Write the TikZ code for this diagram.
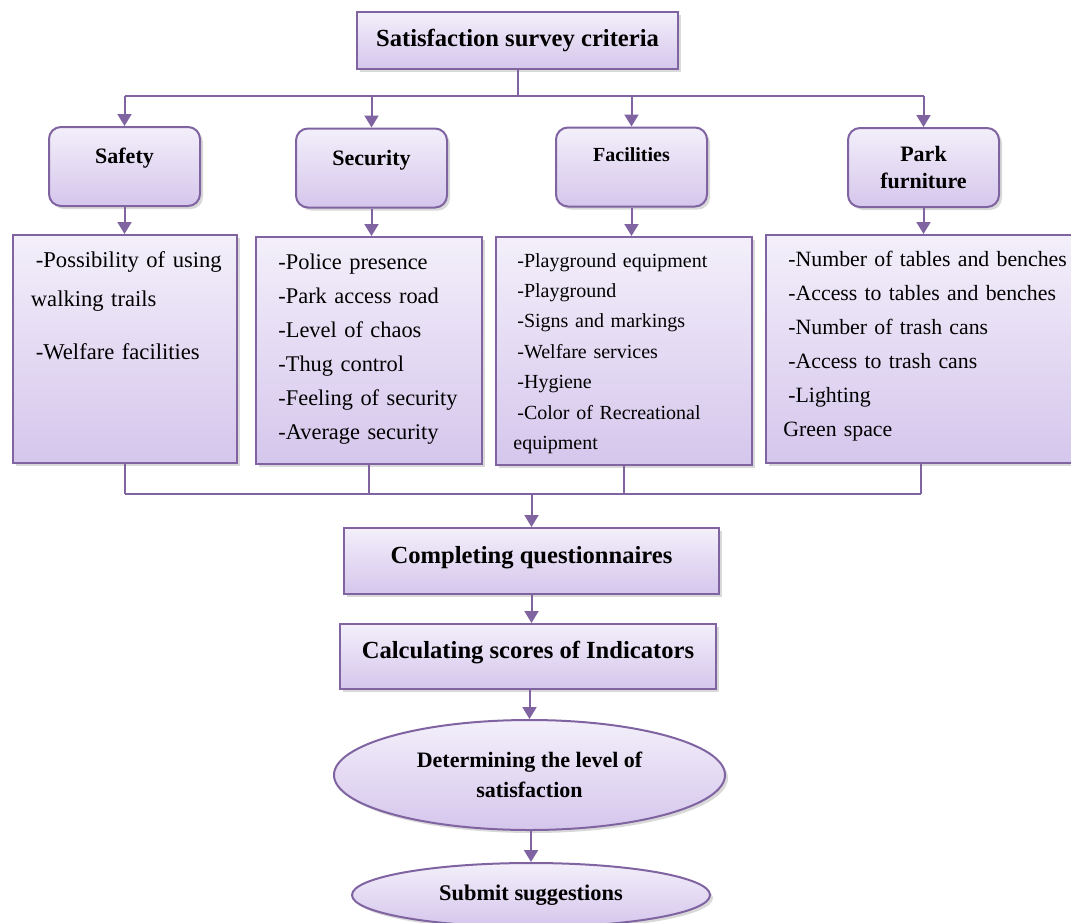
\documentclass[tikz,border=0pt]{standalone}
\usepackage{fontspec}
\setmainfont{Liberation Serif}
\usetikzlibrary{shapes.geometric,arrows.meta,shadows}
\definecolor{boxline}{HTML}{8064A2}
\definecolor{boxtop}{RGB}{243,239,250}
\definecolor{boxbot}{RGB}{213,198,236}
\begin{document}
\begin{tikzpicture}[x=0.5pt,y=-0.5pt]
\tikzstyle{box}=[draw=boxline,line width=1pt,top color=boxtop,bottom color=boxbot,drop shadow={opacity=0.3,shadow xshift=1.5pt,shadow yshift=-1.5pt},font=\bfseries\fontsize{12.3}{15}\selectfont]
\tikzstyle{catbox}=[box,rounded corners=6pt,minimum width=75.5pt,minimum height=39.5pt,align=center,font=\bfseries\fontsize{11}{13.5}\selectfont]
\tikzstyle{cattop}=[text height=8pt,text depth=11pt]
\tikzstyle{listbox}=[box,minimum height=114pt]
\tikzstyle{listtxt}=[anchor=base west,inner sep=0pt,align=left]
\tikzstyle{oval}=[box,ellipse,align=center]
\tikzstyle{wire}=[boxline,line width=1pt]
\tikzstyle{arr}=[wire,-{Triangle[length=6pt,width=7pt]}]
\useasboundingbox (0,0) rectangle (1071,922);
\clip (0,0) rectangle (1071,922);
\node[box,minimum width=160.5pt,minimum height=28.5pt](crit) at (517.5,40.5) {Satisfaction survey criteria};
\node[catbox,cattop](safety) at (124.5,166.5) {Safety};
\node[catbox,cattop](security) at (371.5,168) {Security};
\node[catbox,cattop,text depth=14pt,font=\bfseries\fontsize{10}{12}\selectfont](facil) at (631.5,167) {Facilities};
\node[catbox](park) at (923.5,167.5) {Park\\furniture};
\node[listbox,minimum width=112pt](safelist) at (125,349) {};
\node[listbox,minimum width=113pt,minimum height=113.5pt](seclist) at (369,350.5) {};
\node[listbox,minimum width=128pt](faclist) at (624,351) {};
\node[listbox,minimum width=155pt](parklist) at (921,349) {};
\node[listtxt,text width=110pt,font=\fontsize{11.3}{19.5}\selectfont](safetxt) at (30.5,267)
  {\hspace*{2.5pt}-Possibility of using\\walking trails\\[7pt]\hspace*{2.5pt}-Welfare facilities};
\node[listtxt,text width=110pt,font=\fontsize{11.2}{17}\selectfont](sectxt) at (278,269)
  {-Police presence\\-Park access road\\-Level of chaos\\-Thug control\\-Feeling of security\\-Average security};
\node[listtxt,text width=130pt,font=\fontsize{10}{15.2}\selectfont](factxt) at (517,267)
  {-Playground equipment\\-Playground\\-Signs and markings\\-Welfare services\\-Hygiene\\-Color of Recreational\\\hspace*{-2pt}equipment};
\node[listtxt,text width=170pt,font=\fontsize{10.9}{17}\selectfont](parktxt) at (788,266)
  {-Number of tables and benches\\-Access to tables and benches\\-Number of trash cans\\-Access to trash cans\\-Lighting\\\hspace*{-2.5pt}Green space};
\node[box,minimum width=187.5pt,minimum height=33pt,text depth=5.7pt](quest) at (531.5,561) {Completing questionnaires};
\node[box,minimum width=188pt,minimum height=32.5pt,text depth=6.7pt](score) at (528,656.5) {Calculating scores of Indicators};
\node[oval,minimum width=195.5pt,minimum height=55pt,font=\bfseries\fontsize{11}{15}\selectfont](level) at (529.5,775) {Determining the level of\\satisfaction};
\node[oval,minimum width=179pt,minimum height=32pt,font=\bfseries\fontsize{11.2}{14}\selectfont](suggest) at (531,895) {Submit suggestions};
\coordinate (topbus) at (517,96);
\coordinate (lowbus) at (531,494);
\draw[wire] (crit.south) -- (crit.south |- topbus);
\draw[wire] (safety.north |- topbus) -- (park.north |- topbus);
\foreach \c in {safety,security,facil,park}
  \draw[arr] (\c.north |- topbus) -- (\c.north);
\foreach \c/\l in {safety/safelist,security/seclist,facil/faclist,park/parklist}{
  \draw[arr] (\c.south) -- (\c.south |- \l.north);
  \draw[wire] (\l.south) -- (\l.south |- lowbus);
}
\draw[wire] (safelist.south |- lowbus) -- (parklist.south |- lowbus);
\draw[arr] (quest.north |- lowbus) -- (quest.north);
\draw[arr] (quest.south) -- (quest.south |- score.north);
\draw[arr] (level.north |- score.south) -- (level.north);
\draw[arr] (suggest.north |- level.south) -- (suggest.north);
\end{tikzpicture}
\end{document}
